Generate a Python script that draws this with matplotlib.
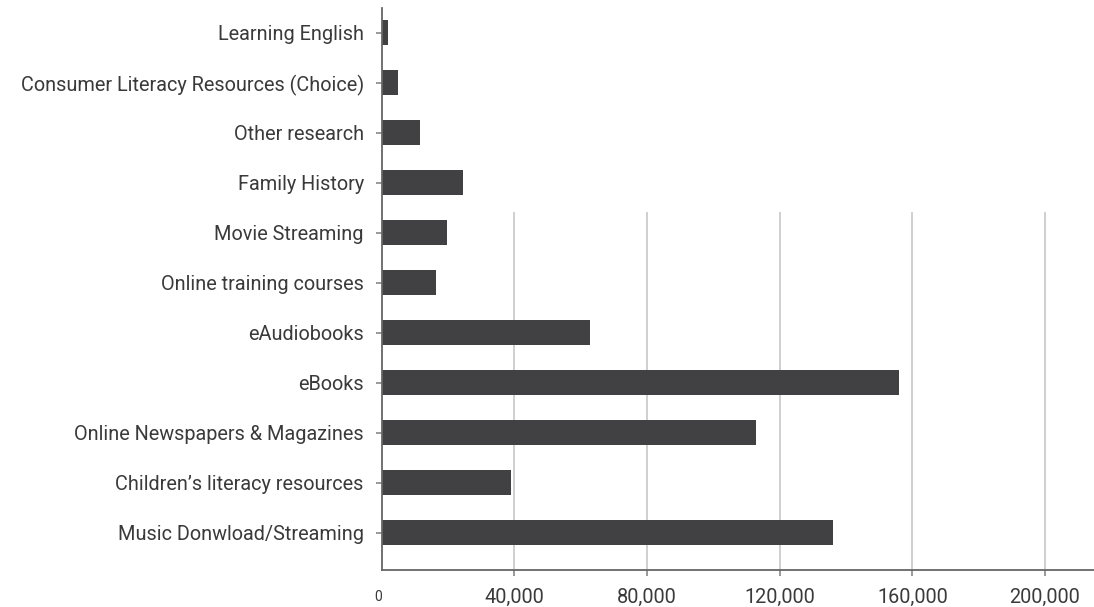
import matplotlib
matplotlib.use("Agg")
import matplotlib.pyplot as plt
from matplotlib.ticker import FuncFormatter

plt.rcParams['font.family'] = ['Roboto', 'DejaVu Sans']

categories = [
    "Learning English",
    "Consumer Literacy Resources (Choice)",
    "Other research",
    "Family History",
    "Movie Streaming",
    "Online training courses",
    "eAudiobooks",
    "eBooks",
    "Online Newspapers & Magazines",
    "Children\u2019s literacy resources",
    "Music Donwload/Streaming",
]
usage = [1800, 4800, 11500, 24400, 19600, 16300, 62700, 156000, 112800, 38900, 136000]
x_ticks = [0, 40000, 80000, 120000, 160000, 200000]

bar_color = "#414143"
text_color = "#3a3a3a"
axis_color = "#666666"
label_size = 14.3

fig = plt.figure(figsize=(10.94, 6.07), dpi=100)
ax = fig.add_axes([0.349, 0.061, 0.651, 0.926])

n = len(categories)
ypos = [n - 1 - i for i in range(n)]
ax.barh(ypos, usage, height=0.5, color=bar_color, zorder=2)

ax.set_xlim(0, 214800)
ax.set_ylim(-0.74, n - 0.5)

# vertical guides only cover the lower part of the plot
for t in x_ticks[1:]:
    ax.axvline(t, ymin=0, ymax=0.635, color="#cccccc", lw=1.3, zorder=1)

ax.set_yticks(ypos)
ax.set_yticklabels(categories, fontsize=label_size, color=text_color)
ax.set_xticks(x_ticks)
ax.xaxis.set_major_formatter(FuncFormatter(lambda v, p: f"{int(v):,}"))
for lbl in ax.get_xticklabels():
    lbl.set_fontsize(label_size)
    lbl.set_color(text_color)

ax.tick_params(axis='y', length=4, width=1.2, color="#888888", pad=9)
ax.tick_params(axis='x', length=4, width=1.2, color="#888888", pad=9)

first = ax.xaxis.get_major_ticks()[0]
first.tick1line.set_visible(False)
first.label1.set_fontsize(10)
first.label1.set_horizontalalignment('right')
first.label1.set_y(-0.004)

for side in ("top", "right"):
    ax.spines[side].set_visible(False)
for side in ("left", "bottom"):
    ax.spines[side].set_color(axis_color)
    ax.spines[side].set_linewidth(1.3)

fig.savefig("out.png", dpi=100)
